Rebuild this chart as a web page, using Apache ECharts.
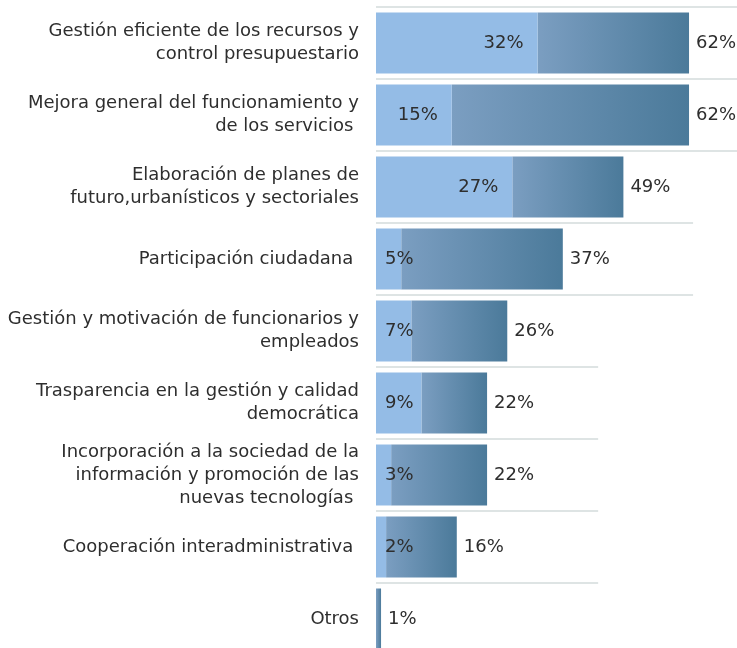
<!DOCTYPE html>
<html>
<head>
<meta charset="utf-8">
<script src="https://cdn.jsdelivr.net/npm/echarts@6/dist/echarts.min.js"></script>
<style>
html,body{margin:0;padding:0;background:#fff;}
#chart{width:737px;height:648px;}
</style>
</head>
<body>
<div id="chart"></div>
<script>
const categories = [
  "Gestión eficiente de los recursos y\ncontrol presupuestario",
  "Mejora general del funcionamiento y\nde los servicios ",
  "Elaboración de planes de\nfuturo,urbanísticos y sectoriales",
  "Participación ciudadana ",
  "Gestión y motivación de funcionarios y\nempleados",
  "Trasparencia en la gestión y calidad\ndemocrática",
  "Incorporación a la sociedad de la\ninformación y promoción de las\nnuevas tecnologías ",
  "Cooperación interadministrativa ",
  "Otros"
];
const firstValues = [32, 15, 27, 5, 7, 9, 3, 2, 0];
const totalValues = [62, 62, 49, 37, 26, 22, 22, 16, 1];
const separatorEnds = [71.5, 71.5, 71.5, 62.8, 62.8, 44, 44, 44, 44];

const chart = echarts.init(document.getElementById('chart'));
const font = 'DejaVu Sans';
const textColor = '#2e2e2e';
const fs = 18;

const option = {
  animation: false,
  grid: { left: 376, right: 0, top: 7, height: 648, containLabel: false, outerBoundsMode: 'none' },
  xAxis: { type: 'value', min: 0, max: 71.5, show: false },
  yAxis: {
    type: 'category', data: categories, inverse: true,
    axisLine: { show: false }, axisTick: { show: false }, splitLine: { show: false },
    axisLabel: { margin: 17, fontFamily: font, fontSize: fs, color: textColor, lineHeight: 23, align: 'right' }
  },
  series: [
    {
      type: 'custom',
      z: 1,
      data: separatorEnds.map((v, i) => [v, i]),
      encode: { x: 0, y: 1 },
      renderItem: function (params, api) {
        const idx = api.value(1);
        const p0 = api.coord([0, idx]);
        const p1 = api.coord([api.value(0), idx]);
        const h = api.size([0, 1])[1];
        const y = p0[1] - h / 2;
        return { type: 'line', shape: { x1: p0[0], y1: y, x2: p1[0], y2: y },
          style: { stroke: '#d3dbdb', lineWidth: 1.5 } };
      }
    },
    {
      type: 'bar', stack: 's', barWidth: 61, z: 3,
      itemStyle: { color: '#94bce6' },
      data: firstValues.map(v => ({
        value: v,
        label: {
          show: v > 0,
          position: v >= 10 ? 'insideRight' : 'insideLeft',
          distance: v >= 10 ? 14 : 9
        }
      })),
      label: { formatter: p => p.value + '%', fontFamily: font, fontSize: fs, color: textColor }
    },
    {
      type: 'bar', stack: 's', barWidth: 61, z: 2,
      itemStyle: {
        color: new echarts.graphic.LinearGradient(0, 0, 1, 0, [
          { offset: 0, color: '#7b9ec1' },
          { offset: 1, color: '#4b7a9a' }
        ])
      },
      data: totalValues.map((t, i) => t - firstValues[i]),
      label: {
        show: true, position: 'right', distance: 7,
        formatter: p => totalValues[p.dataIndex] + '%',
        fontFamily: font, fontSize: fs, color: textColor
      }
    }
  ]
};
chart.setOption(option);
</script>
</body>
</html>
